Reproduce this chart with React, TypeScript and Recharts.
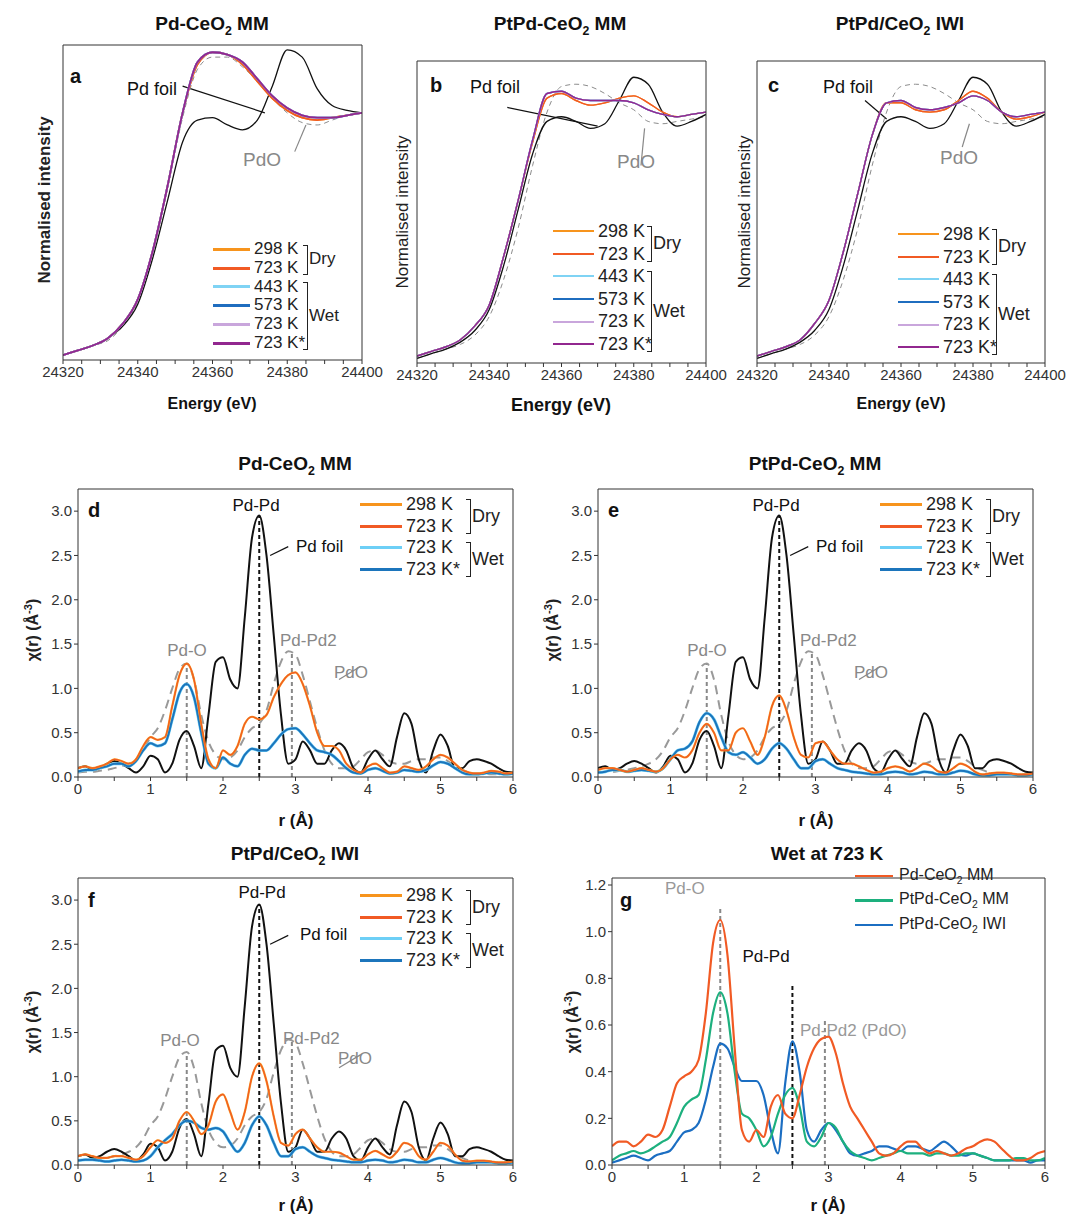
import React from 'react';
import { LineChart, Line, XAxis, YAxis, ReferenceLine } from 'recharts';

const FONT = '"Liberation Sans", Arial, sans-serif';

// XANES energy grid (eV)
const energies = [24320, 24324, 24328, 24332, 24336, 24340, 24344, 24348, 24352, 24356, 24360, 24364, 24368, 24372, 24376, 24380, 24384, 24388, 24392, 24396, 24400];
const foilXanes = [0.02, 0.04, 0.06, 0.09, 0.14, 0.23, 0.42, 0.66, 0.9, 1.04, 1.06, 1.04, 1.01, 1.03, 1.13, 1.23, 1.2, 1.08, 1.02, 1.04, 1.07];
const pdoXanes = [0.02, 0.04, 0.06, 0.08, 0.12, 0.2, 0.36, 0.58, 0.85, 1.08, 1.19, 1.2, 1.19, 1.16, 1.12, 1.09, 1.04, 1.03, 1.04, 1.05, 1.06];
const aFoil = [0.02, 0.04, 0.06, 0.09, 0.14, 0.23, 0.42, 0.66, 0.9, 0.99, 1.0, 0.97, 0.95, 0.99, 1.13, 1.28, 1.25, 1.12, 1.05, 1.03, 1.02];
const aPdo = [0.02, 0.04, 0.06, 0.08, 0.14, 0.24, 0.44, 0.71, 1.0, 1.2, 1.25, 1.25, 1.21, 1.15, 1.08, 1.02, 0.98, 0.97, 0.99, 1.01, 1.02];
const aDry = [0.02, 0.04, 0.06, 0.09, 0.15, 0.25, 0.45, 0.72, 1.02, 1.22, 1.27, 1.26, 1.22, 1.15, 1.08, 1.03, 1.0, 0.99, 1.0, 1.01, 1.02];
const aWet = [0.02, 0.04, 0.06, 0.09, 0.15, 0.25, 0.45, 0.72, 1.02, 1.23, 1.27, 1.26, 1.23, 1.16, 1.09, 1.04, 1.01, 1.0, 1.0, 1.01, 1.02];
const bDry = [0.03, 0.05, 0.07, 0.1, 0.16, 0.25, 0.46, 0.7, 0.95, 1.14, 1.16, 1.13, 1.11, 1.12, 1.14, 1.15, 1.12, 1.08, 1.06, 1.07, 1.08];
const bWet = [0.03, 0.05, 0.07, 0.1, 0.16, 0.25, 0.46, 0.7, 0.96, 1.16, 1.17, 1.14, 1.13, 1.13, 1.13, 1.12, 1.09, 1.07, 1.06, 1.07, 1.08];
const cDry = [0.03, 0.05, 0.07, 0.1, 0.17, 0.27, 0.48, 0.73, 0.98, 1.12, 1.12, 1.09, 1.08, 1.09, 1.13, 1.17, 1.14, 1.08, 1.05, 1.06, 1.08];
const cWet = [0.03, 0.05, 0.07, 0.1, 0.17, 0.27, 0.48, 0.73, 0.98, 1.12, 1.13, 1.1, 1.09, 1.1, 1.12, 1.15, 1.13, 1.08, 1.06, 1.07, 1.08];
const energyTicks = [24320, 24325, 24330, 24335, 24340, 24345, 24350, 24355, 24360, 24365, 24370, 24375, 24380, 24385, 24390, 24395, 24400];

// EXAFS r grid (Å), 0 to 6 step 0.1
const rGrid = [0, 0.1, 0.2, 0.3, 0.4, 0.5, 0.6, 0.7, 0.8, 0.9, 1, 1.1, 1.2, 1.3, 1.4, 1.5, 1.6, 1.7, 1.8, 1.9, 2, 2.1, 2.2, 2.3, 2.4, 2.5, 2.6, 2.7, 2.8, 2.9, 3, 3.1, 3.2, 3.3, 3.4, 3.5, 3.6, 3.7, 3.8, 3.9, 4, 4.1, 4.2, 4.3, 4.4, 4.5, 4.6, 4.7, 4.8, 4.9, 5, 5.1, 5.2, 5.3, 5.4, 5.5, 5.6, 5.7, 5.8, 5.9, 6];
const foilFt = [0.1, 0.12, 0.08, 0.1, 0.15, 0.18, 0.15, 0.1, 0.05, 0.12, 0.24, 0.2, 0.05, 0.15, 0.42, 0.52, 0.35, 0.1, 0.7, 1.3, 1.35, 1.1, 1.0, 1.8, 2.7, 2.95, 2.5, 1.6, 0.7, 0.15, 0.2, 0.4, 0.3, 0.15, 0.15, 0.3, 0.38, 0.3, 0.1, 0.05, 0.2, 0.3, 0.2, 0.12, 0.45, 0.72, 0.6, 0.2, 0.05, 0.3, 0.48, 0.35, 0.1, 0.1, 0.18, 0.2, 0.18, 0.15, 0.1, 0.06, 0.05];
const pdoFt = [0.05, 0.06, 0.06, 0.07, 0.08, 0.1, 0.12, 0.15, 0.2, 0.3, 0.45, 0.55, 0.75, 1.0, 1.22, 1.28, 1.1, 0.7, 0.4, 0.25, 0.2, 0.22, 0.3, 0.45, 0.55, 0.6, 0.75, 1.05, 1.3, 1.42, 1.38, 1.15, 0.85, 0.55, 0.3, 0.15, 0.1, 0.1, 0.12, 0.2, 0.28, 0.3, 0.25, 0.18, 0.15, 0.15, 0.18, 0.2, 0.2, 0.22, 0.22, 0.18, 0.12, 0.08, 0.05, 0.04, 0.04, 0.03, 0.03, 0.03, 0.03];
const dDry = [0.1, 0.12, 0.1, 0.12, 0.15, 0.2, 0.18, 0.15, 0.2, 0.35, 0.45, 0.42, 0.45, 0.8, 1.15, 1.28, 1.1, 0.6, 0.2, 0.1, 0.3, 0.25, 0.35, 0.6, 0.68, 0.65, 0.7, 0.9, 1.05, 1.15, 1.18, 1.05, 0.8, 0.5, 0.35, 0.35, 0.3, 0.15, 0.08, 0.05, 0.12, 0.15, 0.1, 0.05, 0.06, 0.12, 0.1, 0.08, 0.12, 0.2, 0.25, 0.22, 0.15, 0.08, 0.05, 0.04, 0.05, 0.07, 0.06, 0.04, 0.05];
const dWet = [0.06, 0.08, 0.08, 0.1, 0.12, 0.15, 0.15, 0.12, 0.18, 0.3, 0.38, 0.35, 0.38, 0.65, 0.95, 1.05, 0.9, 0.5, 0.15, 0.1, 0.22, 0.15, 0.12, 0.25, 0.32, 0.3, 0.3, 0.38, 0.48, 0.54, 0.55, 0.48, 0.38, 0.3, 0.28, 0.25, 0.18, 0.1, 0.05, 0.04, 0.08, 0.1, 0.07, 0.04, 0.05, 0.08, 0.07, 0.06, 0.08, 0.13, 0.17, 0.15, 0.1, 0.05, 0.03, 0.03, 0.04, 0.05, 0.04, 0.03, 0.04];
const eDry = [0.08, 0.1, 0.1, 0.08, 0.06, 0.08, 0.1, 0.08, 0.06, 0.1, 0.2, 0.25, 0.22, 0.3, 0.5, 0.6, 0.5, 0.3, 0.3, 0.5, 0.55, 0.4, 0.25, 0.45, 0.8, 0.92, 0.75, 0.45, 0.25, 0.22, 0.38, 0.4, 0.3, 0.2, 0.15, 0.15, 0.12, 0.08, 0.05, 0.06, 0.1, 0.12, 0.1, 0.06, 0.1, 0.15, 0.12, 0.06, 0.05, 0.1, 0.15, 0.12, 0.06, 0.03, 0.04, 0.05, 0.05, 0.04, 0.03, 0.03, 0.04];
const eWet = [0.05, 0.06, 0.08, 0.08, 0.06, 0.07, 0.08, 0.07, 0.06, 0.1, 0.2, 0.3, 0.32, 0.4, 0.62, 0.72, 0.65, 0.45, 0.28, 0.25, 0.28, 0.22, 0.15, 0.2, 0.32, 0.38, 0.32, 0.2, 0.1, 0.1, 0.18, 0.2, 0.15, 0.1, 0.08, 0.06, 0.05, 0.04, 0.03, 0.03, 0.05, 0.06, 0.05, 0.03, 0.04, 0.06, 0.05, 0.03, 0.03, 0.05, 0.07, 0.06, 0.03, 0.02, 0.02, 0.03, 0.03, 0.03, 0.02, 0.02, 0.03];
const fDry = [0.1, 0.12, 0.1, 0.08, 0.08, 0.1, 0.1, 0.08, 0.06, 0.1, 0.2, 0.28, 0.25, 0.3, 0.5, 0.6, 0.5, 0.35, 0.45, 0.72, 0.8, 0.6, 0.4, 0.6, 1.0, 1.15, 0.95, 0.55, 0.25, 0.22, 0.35, 0.4, 0.3, 0.2, 0.15, 0.15, 0.14, 0.1, 0.06, 0.06, 0.12, 0.16, 0.12, 0.08, 0.15, 0.25, 0.22, 0.1, 0.06, 0.15, 0.25, 0.22, 0.12, 0.05, 0.04, 0.05, 0.05, 0.04, 0.03, 0.03, 0.04];
const fWet = [0.05, 0.06, 0.06, 0.05, 0.04, 0.05, 0.06, 0.05, 0.04, 0.05, 0.1, 0.2, 0.28, 0.35, 0.45, 0.5, 0.48, 0.42, 0.4, 0.42, 0.38, 0.25, 0.15, 0.25, 0.45, 0.55, 0.45, 0.25, 0.1, 0.1, 0.18, 0.2, 0.15, 0.1, 0.08, 0.06, 0.05, 0.04, 0.03, 0.03, 0.05, 0.06, 0.05, 0.03, 0.04, 0.06, 0.05, 0.03, 0.03, 0.06, 0.08, 0.06, 0.03, 0.02, 0.02, 0.03, 0.03, 0.03, 0.02, 0.02, 0.03];
const gPdMM = [0.08, 0.1, 0.1, 0.08, 0.1, 0.13, 0.12, 0.15, 0.25, 0.35, 0.38, 0.4, 0.45, 0.65, 0.95, 1.05, 0.9, 0.5, 0.15, 0.1, 0.15, 0.12, 0.25, 0.3, 0.22, 0.2, 0.3, 0.42, 0.5, 0.54, 0.55, 0.48, 0.35, 0.25, 0.2, 0.15, 0.1, 0.05, 0.04, 0.05, 0.08, 0.1, 0.1, 0.07, 0.05, 0.06, 0.05, 0.04, 0.05, 0.07, 0.08, 0.1, 0.11, 0.1, 0.07, 0.04, 0.02, 0.02, 0.03, 0.05, 0.06];
const gPtPdMM = [0.02, 0.04, 0.05, 0.06, 0.05, 0.06, 0.08, 0.1, 0.12, 0.18, 0.25, 0.28, 0.3, 0.45, 0.65, 0.74, 0.65, 0.4, 0.22, 0.2, 0.15, 0.08, 0.12, 0.22, 0.3, 0.33, 0.25, 0.1, 0.08, 0.12, 0.18, 0.16, 0.1, 0.06, 0.04, 0.03, 0.02, 0.03, 0.04, 0.05, 0.06, 0.05, 0.05, 0.05, 0.04, 0.05, 0.05, 0.04, 0.04, 0.05, 0.05, 0.04, 0.03, 0.02, 0.02, 0.02, 0.03, 0.03, 0.02, 0.02, 0.03];
const gPtPdIWI = [0.01, 0.02, 0.03, 0.04, 0.03, 0.02, 0.04, 0.05, 0.06, 0.1, 0.14, 0.15, 0.18, 0.28, 0.42, 0.52, 0.5, 0.42, 0.36, 0.36, 0.36, 0.3, 0.15, 0.05, 0.35, 0.53, 0.4, 0.15, 0.1, 0.15, 0.18, 0.15, 0.1, 0.05, 0.04, 0.05, 0.06, 0.08, 0.08, 0.07, 0.06, 0.08, 0.08, 0.07, 0.06, 0.08, 0.1, 0.08, 0.05, 0.04, 0.05, 0.04, 0.03, 0.02, 0.02, 0.02, 0.02, 0.02, 0.01, 0.02, 0.02];
const rTicks = [0, 0.5, 1, 1.5, 2, 2.5, 3, 3.5, 4, 4.5, 5, 5.5, 6];
const chiTicks = [0, 0.5, 1, 1.5, 2, 2.5, 3];
const gTicks = [0, 0.2, 0.4, 0.6, 0.8, 1.0, 1.2];

const C = {
  k298: '#f7941d', k723: '#f15a24', k443: '#7fd3f4', k573: '#1f6dbf',
  k723w: '#c9a6dc', k723s: '#92278f', wet723: '#6dcff6', wet723s: '#1c75bc',
  green: '#1db07e', grey: '#8c8c8c',
};

type S = { data: number[]; color: string; w?: number; dash?: string };
type Seg = { x: number; y: number; x2: number; y2: number; color: string; dash?: string };
type Box = { L: number; T: number; W: number; H: number };

const Panel = ({ box, xs, series, xDomain, xTicks, majorEvery, yDomain, yTicks, segs = [] }: {
  box: Box; xs: number[]; series: S[]; xDomain: [number, number]; xTicks: number[]; majorEvery: number;
  yDomain: [number, number]; yTicks?: number[]; segs?: Seg[];
}) => {
  const YW = 40, XH = 24, RM = 24;
  const rows = xs.map((x, i) => {
    const row: Record<string, number> = { x };
    series.forEach((s, j) => { row['s' + j] = s.data[i]; });
    return row;
  });
  const isMajor = (v: number) => Math.abs(Math.round(v / majorEvery) * majorEvery - v) < 1e-6;
  const tickStyle = { fontSize: 15, fill: '#333', fontFamily: FONT };
  return (
    <div style={{ position: 'absolute', left: box.L - YW, top: box.T - 1 }}>
      <LineChart width={YW + box.W + 1 + RM} height={box.H + XH + 1} data={rows} margin={{ top: 0, right: RM, left: 0, bottom: 0 }}>
        <XAxis dataKey="x" type="number" domain={xDomain} ticks={xTicks} interval={0} height={XH} stroke="#333"
          tick={tickStyle} tickSize={4} tickFormatter={(v) => (isMajor(v) ? String(v) : '')} allowDataOverflow />
        <XAxis xAxisId="top" dataKey="x" type="number" orientation="top" domain={xDomain} ticks={xTicks} height={1}
          stroke="#333" tick={false} tickSize={4} allowDataOverflow />
        <YAxis type="number" domain={yDomain} ticks={yTicks ?? []} interval={0} width={YW} stroke="#333"
          tick={yTicks ? tickStyle : false} tickLine={!!yTicks} tickSize={4}
          tickFormatter={(v) => Number(v).toFixed(1)} allowDataOverflow />
        <YAxis yAxisId="right" orientation="right" type="number" domain={yDomain} ticks={yTicks ?? []} width={1}
          stroke="#333" tick={false} tickLine={!!yTicks} tickSize={4} allowDataOverflow />
        {segs.map((g, i) => (
          <ReferenceLine key={'g' + i} segment={[{ x: g.x, y: g.y }, { x: g.x2, y: g.y2 }]} stroke={g.color}
            strokeWidth={g.dash ? 2 : 1.2} strokeDasharray={g.dash} ifOverflow="visible" />
        ))}
        {series.map((s, j) => (
          <Line key={j} dataKey={'s' + j} type="monotone" dot={false} stroke={s.color} strokeWidth={s.w ?? 1.4}
            strokeDasharray={s.dash} isAnimationActive={false} />
        ))}
      </LineChart>
    </div>
  );
};

const Txt = ({ x, y, children, size = 18, color = '#111', bold = false, center = false }: any) => (
  <div style={{ position: 'absolute', left: x, top: y, fontSize: size, color, fontWeight: bold ? 700 : 400, fontFamily: FONT,
    whiteSpace: 'nowrap', transform: center ? 'translateX(-50%)' : undefined, lineHeight: 1 }}>{children}</div>
);

const VTxt = ({ x, y, children, bold = false, size = 17 }: any) => (
  <div style={{ position: 'absolute', left: x, top: y, fontSize: size, fontWeight: bold ? 700 : 400, fontFamily: FONT,
    whiteSpace: 'nowrap', transform: 'translate(-50%,-50%) rotate(-90deg)', color: '#222' }}>{children}</div>
);

const Title = ({ x, y, children }: any) => <Txt x={x} y={y} size={19} bold center>{children}</Txt>;
const Sub2 = () => <sub style={{ fontSize: '0.65em' }}>2</sub>;

type LItem = { label: string; color: string; w?: number };
const LegendBox = ({ x, y, step, len, items, groups, size = 18 }: {
  x: number; y: number; step: number; len: number; items: LItem[]; groups: { from: number; to: number; label: string; gx: number }[]; size?: number;
}) => (
  <div style={{ position: 'absolute', left: x, top: y }}>
    {items.map((it, i) => (
      <div key={i} style={{ position: 'absolute', top: i * step, left: 0, display: 'flex', alignItems: 'center', whiteSpace: 'nowrap' }}>
        <div style={{ width: len, height: it.w ?? 2, background: it.color }} />
        <span style={{ marginLeft: 4, fontSize: size, fontFamily: FONT, color: '#222', lineHeight: `${step}px` }}>{it.label}</span>
      </div>
    ))}
    {groups.map((g, i) => (
      <React.Fragment key={i}>
        <div style={{ position: 'absolute', left: g.gx, top: g.from * step + step * 0.25, width: 4, height: (g.to - g.from) * step + step * 0.5,
          borderTop: '1px solid #222', borderRight: '1px solid #222', borderBottom: '1px solid #222' }} />
        <div style={{ position: 'absolute', left: g.gx + 6, top: ((g.from + g.to) / 2) * step + step * 0.5 - size * 0.55,
          fontSize: size, fontFamily: FONT, color: '#222' }}>{g.label}</div>
      </React.Fragment>
    ))}
  </div>
);

const xanesItems = (): LItem[] => [
  { label: '298 K', color: C.k298 }, { label: '723 K', color: C.k723 }, { label: '443 K', color: C.k443 },
  { label: '573 K', color: C.k573 }, { label: '723 K', color: C.k723w }, { label: '723 K*', color: C.k723s },
];
const xanesGroups = (gx: number) => [{ from: 0, to: 1, label: 'Dry', gx }, { from: 2, to: 5, label: 'Wet', gx }];
const exafsItems = (): LItem[] => [
  { label: '298 K', color: C.k298, w: 3 }, { label: '723 K', color: C.k723, w: 3 },
  { label: '723 K', color: C.wet723, w: 3 }, { label: '723 K*', color: C.wet723s, w: 3 },
];
const exafsGroups = (gx: number) => [{ from: 0, to: 1, label: 'Dry', gx }, { from: 2, to: 3, label: 'Wet', gx }];

const xanesSeries = (dry: number[], wet: number[], w = 1.4, foil = foilXanes, pdo = pdoXanes): S[] => [
  { data: pdo, color: C.grey, dash: '5 4', w: 1 },
  { data: foil, color: '#111', w: 1.3 },
  { data: dry, color: C.k298, w }, { data: dry, color: C.k723, w },
  { data: wet, color: C.k443, w }, { data: wet, color: C.k573, w },
  { data: wet, color: C.k723w, w }, { data: wet, color: C.k723s, w },
];
const exafsSeries = (dry: number[], wet: number[]): S[] => [
  { data: pdoFt, color: '#999', dash: '9 6', w: 2 },
  { data: foilFt, color: '#111', w: 2 },
  { data: wet, color: C.wet723, w: 3 }, { data: wet, color: C.wet723s, w: 2 },
  { data: dry, color: C.k298, w: 2.2 }, { data: dry, color: C.k723, w: 1.2 },
];
const exafsSegs = (): Seg[] => [
  { x: 1.5, y: 0, x2: 1.5, y2: 1.28, color: '#888', dash: '4 3' },
  { x: 2.5, y: 0, x2: 2.5, y2: 2.95, color: '#111', dash: '4 3' },
  { x: 2.95, y: 0, x2: 2.95, y2: 1.42, color: '#888', dash: '4 3' },
  { x: 2.9, y: 2.6, x2: 2.65, y2: 2.5, color: '#111' },
  { x: 3.9, y: 1.25, x2: 3.6, y2: 1.1, color: '#888' },
];

const boxA: Box = { L: 63, T: 45, W: 299, H: 315 };
const boxB: Box = { L: 417, T: 61, W: 289, H: 302 };
const boxC: Box = { L: 757, T: 61, W: 288, H: 302 };
const boxD: Box = { L: 78, T: 489, W: 435, H: 288 };
const boxE: Box = { L: 598, T: 489, W: 435, H: 288 };
const boxF: Box = { L: 78, T: 878, W: 435, H: 287 };
const boxG: Box = { L: 612, T: 878, W: 433, H: 287 };

export default function App() {
  return (
    <div style={{ position: 'absolute', left: 0, top: 0, width: 1069, height: 1218, background: '#fff', fontFamily: FONT }}>
      {/* top row: XANES */}
      <Title x={212} y={14}>Pd-CeO<Sub2 /> MM</Title>
      <Title x={560} y={14}>PtPd-CeO<Sub2 /> MM</Title>
      <Title x={900} y={14}>PtPd/CeO<Sub2 /> IWI</Title>

      <Panel box={boxA} xs={energies} series={xanesSeries(aDry, aWet, 1.8, aFoil, aPdo)} xDomain={[24320, 24400]} xTicks={energyTicks} majorEvery={20}
        yDomain={[0, 1.3]} segs={[{ x: 24352, y: 1.13, x2: 24374, y2: 1.02, color: '#111' }, { x: 24382, y: 0.86, x2: 24385, y2: 0.97, color: '#888' }]} />
      <Panel box={boxB} xs={energies} series={xanesSeries(bDry, bWet)} xDomain={[24320, 24400]} xTicks={energyTicks} majorEvery={20}
        yDomain={[0, 1.3]} segs={[{ x: 24345, y: 1.1, x2: 24370, y2: 1.02, color: '#111' }, { x: 24382, y: 0.85, x2: 24383, y2: 1.01, color: '#888' }]} />
      <Panel box={boxC} xs={energies} series={xanesSeries(cDry, cWet)} xDomain={[24320, 24400]} xTicks={energyTicks} majorEvery={20}
        yDomain={[0, 1.3]} segs={[{ x: 24350, y: 1.13, x2: 24356, y2: 1.05, color: '#111' }, { x: 24377, y: 0.93, x2: 24379, y2: 1.03, color: '#888' }]} />

      <Txt x={70} y={66} size={20} bold>a</Txt>
      <Txt x={127} y={80}>Pd foil</Txt>
      <Txt x={243} y={150} color="#888" size={19}>PdO</Txt>
      <Txt x={430} y={75} size={20} bold>b</Txt>
      <Txt x={470} y={78}>Pd foil</Txt>
      <Txt x={617} y={152} color="#888" size={19}>PdO</Txt>
      <Txt x={768} y={75} size={20} bold>c</Txt>
      <Txt x={823} y={78}>Pd foil</Txt>
      <Txt x={940} y={148} color="#888" size={19}>PdO</Txt>

      <LegendBox x={213} y={240} step={18.8} len={37} size={17} items={xanesItems().map((i) => ({ ...i, w: 3 }))} groups={xanesGroups(90)} />
      <LegendBox x={553} y={220} step={22.6} len={41} items={xanesItems()} groups={xanesGroups(94)} />
      <LegendBox x={898} y={223} step={22.6} len={41} items={xanesItems()} groups={xanesGroups(94)} />

      <VTxt x={45} y={200} bold>Normalised intensity</VTxt>
      <VTxt x={403} y={212}>Normalised intensity</VTxt>
      <VTxt x={745} y={212}>Normalised intensity</VTxt>
      <Txt x={212} y={396} size={16} bold center>Energy (eV)</Txt>
      <Txt x={561} y={396} size={18} bold center>Energy (eV)</Txt>
      <Txt x={901} y={396} size={16} bold center>Energy (eV)</Txt>

      {/* middle row: EXAFS */}
      <Title x={295} y={454}>Pd-CeO<Sub2 /> MM</Title>
      <Title x={815} y={454}>PtPd-CeO<Sub2 /> MM</Title>
      <Panel box={boxD} xs={rGrid} series={exafsSeries(dDry, dWet)} xDomain={[0, 6]} xTicks={rTicks} majorEvery={1}
        yDomain={[0, 3.25]} yTicks={chiTicks} segs={exafsSegs()} />
      <Panel box={boxE} xs={rGrid} series={exafsSeries(eDry, eWet)} xDomain={[0, 6]} xTicks={rTicks} majorEvery={1}
        yDomain={[0, 3.25]} yTicks={chiTicks} segs={exafsSegs()} />
      <Txt x={88} y={500} size={20} bold>d</Txt>
      <Txt x={608} y={500} size={20} bold>e</Txt>
      {[0, 520].map((dx) => (
        <React.Fragment key={dx}>
          <Txt x={dx + 256} y={497} size={17} center>Pd-Pd</Txt>
          <Txt x={dx + 296} y={538} size={17}>Pd foil</Txt>
          <Txt x={dx + 187} y={642} size={17} color="#888" center>Pd-O</Txt>
          <Txt x={dx + 280} y={632} size={17} color="#888">Pd-Pd2</Txt>
          <Txt x={dx + 334} y={664} size={17} color="#888">PdO</Txt>
        </React.Fragment>
      ))}
      <LegendBox x={360} y={494} step={21.5} len={42} items={exafsItems()} groups={exafsGroups(106)} />
      <LegendBox x={880} y={494} step={21.5} len={42} items={exafsItems()} groups={exafsGroups(106)} />
      <VTxt x={32} y={630} bold size={16}>χ(r) (Å<sup style={{ fontSize: '0.7em' }}>-3</sup>)</VTxt>
      <VTxt x={552} y={630} bold size={16}>χ(r) (Å<sup style={{ fontSize: '0.7em' }}>-3</sup>)</VTxt>
      <Txt x={296} y={812} size={17} bold center>r (Å)</Txt>
      <Txt x={816} y={812} size={17} bold center>r (Å)</Txt>

      {/* bottom row */}
      <Title x={295} y={844}>PtPd/CeO<Sub2 /> IWI</Title>
      <Title x={827} y={844}>Wet at 723 K</Title>
      <Panel box={boxF} xs={rGrid} series={exafsSeries(fDry, fWet)} xDomain={[0, 6]} xTicks={rTicks} majorEvery={1}
        yDomain={[0, 3.25]} yTicks={chiTicks} segs={exafsSegs()} />
      <Txt x={88} y={890} size={20} bold>f</Txt>
      <Txt x={262} y={884} size={17} center>Pd-Pd</Txt>
      <Txt x={300} y={926} size={17}>Pd foil</Txt>
      <Txt x={180} y={1032} size={17} color="#888" center>Pd-O</Txt>
      <Txt x={283} y={1030} size={17} color="#888">Pd-Pd2</Txt>
      <Txt x={338} y={1050} size={17} color="#888">PdO</Txt>
      <LegendBox x={360} y={885} step={21.5} len={42} items={exafsItems()} groups={exafsGroups(106)} />
      <VTxt x={32} y={1022} bold size={16}>χ(r) (Å<sup style={{ fontSize: '0.7em' }}>-3</sup>)</VTxt>
      <Txt x={296} y={1197} size={17} bold center>r (Å)</Txt>

      <Panel box={boxG} xs={rGrid} xDomain={[0, 6]} xTicks={rTicks} majorEvery={1} yDomain={[0, 1.23]} yTicks={gTicks}
        series={[
          { data: gPtPdIWI, color: '#1b6ec2', w: 2.2 },
          { data: gPtPdMM, color: C.green, w: 2.2 },
          { data: gPdMM, color: C.k723, w: 2.2 },
        ]}
        segs={[
          { x: 1.5, y: 0, x2: 1.5, y2: 1.1, color: '#888', dash: '4 3' },
          { x: 2.5, y: 0, x2: 2.5, y2: 0.78, color: '#111', dash: '4 3' },
          { x: 2.95, y: 0, x2: 2.95, y2: 0.62, color: '#888', dash: '4 3' },
        ]} />
      <Txt x={620} y={890} size={20} bold>g</Txt>
      <Txt x={665} y={880} size={17} color="#999">Pd-O</Txt>
      <Txt x={766} y={948} size={17} center>Pd-Pd</Txt>
      <Txt x={800} y={1022} size={17} color="#999">Pd-Pd2 (PdO)</Txt>
      <div style={{ position: 'absolute', left: 855, top: 864 }}>
        {[
          { c: C.k723, t: <>Pd-CeO<Sub2 /> MM</> },
          { c: C.green, t: <>PtPd-CeO<Sub2 /> MM</> },
          { c: '#1b6ec2', t: <>PtPd-CeO<Sub2 /> IWI</> },
        ].map((it, i) => (
          <div key={i} style={{ position: 'absolute', top: i * 24.5, display: 'flex', alignItems: 'center', whiteSpace: 'nowrap', height: 24 }}>
            <div style={{ width: 38, height: 2.5, background: it.c }} />
            <span style={{ marginLeft: 6, fontSize: 16, fontFamily: FONT, color: '#222' }}>{it.t}</span>
          </div>
        ))}
      </div>
      <VTxt x={572} y={1022} bold size={16}>χ(r) (Å<sup style={{ fontSize: '0.7em' }}>-3</sup>)</VTxt>
      <Txt x={828} y={1197} size={17} bold center>r (Å)</Txt>
    </div>
  );
}
